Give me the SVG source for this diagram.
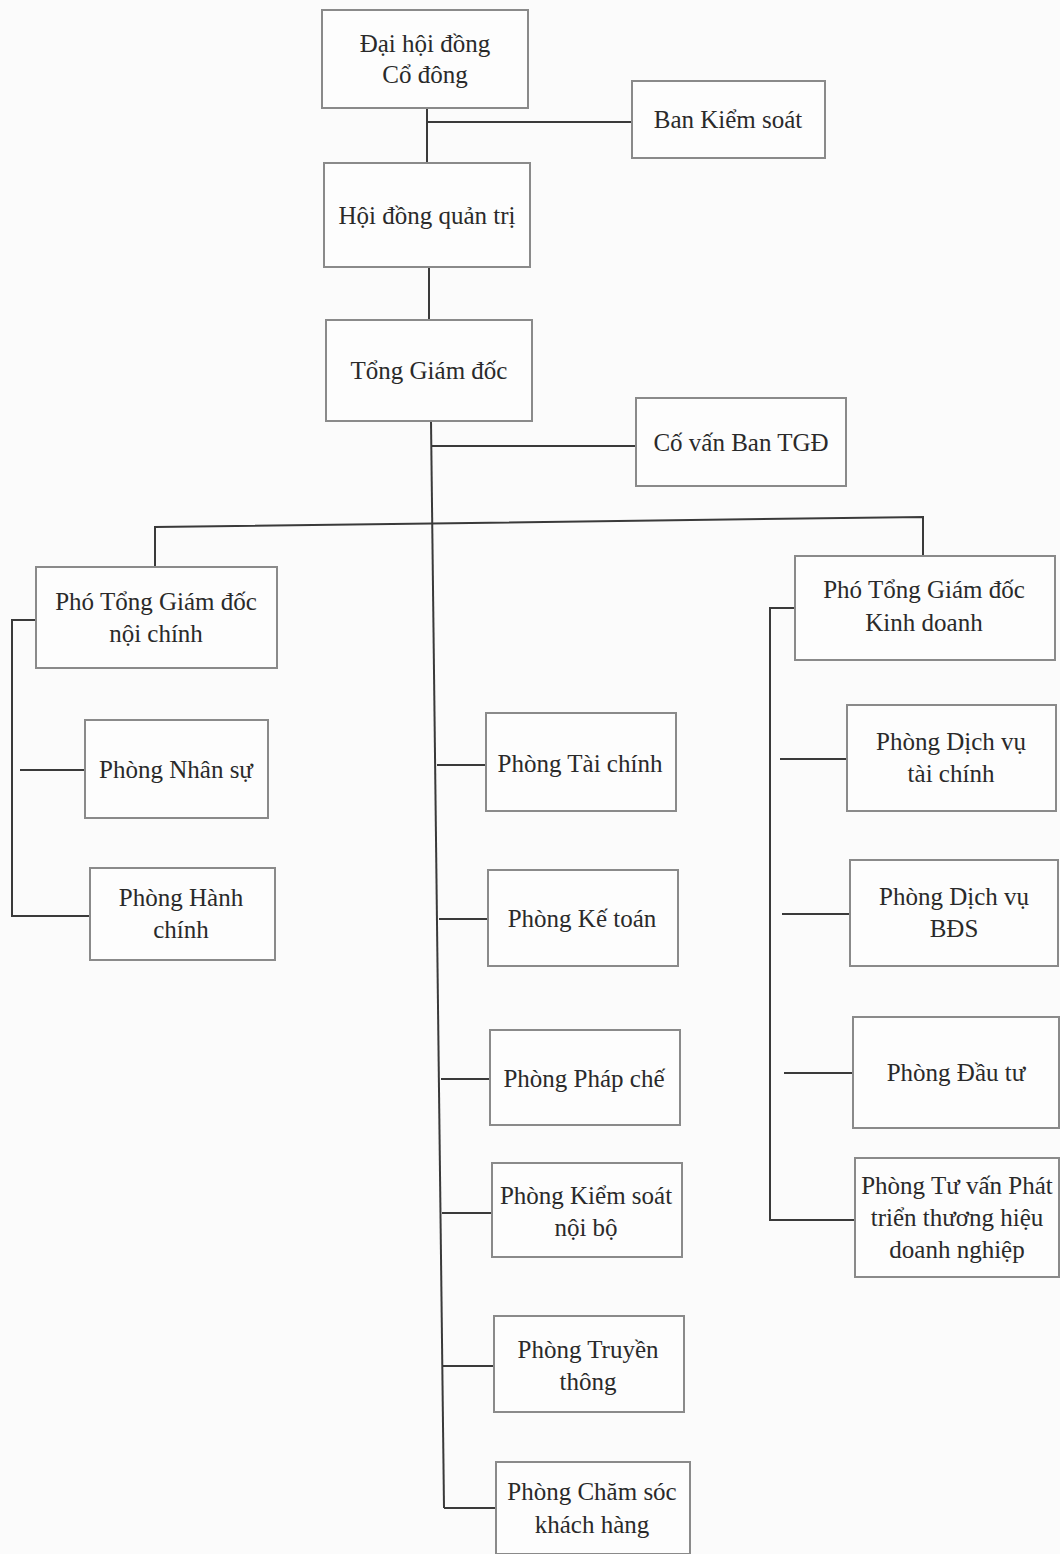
<svg xmlns="http://www.w3.org/2000/svg" width="1060" height="1554" viewBox="0 0 1060 1554">
<style>
.box{fill:#fdfdfd;stroke:#8a8a8a;stroke-width:2}
.t{font-family:'Liberation Serif','Tinos','DejaVu Serif','Noto Serif',serif;font-size:25px;fill:#2a2a2a;text-anchor:middle}
.c{stroke:#3a3a3a;stroke-width:2;fill:none}
</style>
<rect width="1060" height="1554" fill="#fbfbfb"/>
<g id="connectors">
<path class="c" d="M427,108 V165 M427,122 H632"/>
<path class="c" d="M429,267 V320"/>
<path class="c" d="M431,421 L444,1508"/>
<path class="c" d="M432,446 H636"/>
<path class="c" d="M155,567 V527 L923,517 V557"/>
<path class="c" d="M36,620 H12 V916 H90"/>
<path class="c" d="M20,770 H85"/>
<path class="c" d="M437,765 H486 M439,919 H488 M441,1079 H490 M442,1213 H492 M443,1366 H494 M444,1508 H496"/>
<path class="c" d="M795,608 H770 V1220 H855"/>
<path class="c" d="M780,759 H847 M782,914 H850 M784,1073 H853"/>
</g>
<g id="dhdcd"><rect class="box" x="322" y="10" width="206" height="98"/><text class="t" x="425" y="52" font-family="Liberation Serif, serif">Đại hội đồng</text><text class="t" x="425" y="83" font-family="Liberation Serif, serif">Cổ đông</text></g>
<g id="bks"><rect class="box" x="632" y="81" width="193" height="77"/><text class="t" x="728" y="128">Ban Kiểm soát</text></g>
<g id="hdqt"><rect class="box" x="324" y="163" width="206" height="104"/><text class="t" x="427" y="224">Hội đồng quản trị</text></g>
<g id="tgd"><rect class="box" x="326" y="320" width="206" height="101"/><text class="t" x="429" y="379">Tổng Giám đốc</text></g>
<g id="cvtgd"><rect class="box" x="636" y="398" width="210" height="88"/><text class="t" x="741" y="451">Cố vấn Ban TGĐ</text></g>
<g id="ptgdnc"><rect class="box" x="36" y="567" width="241" height="101"/><text class="t" x="156" y="610">Phó Tổng Giám đốc</text><text class="t" x="156" y="642">nội chính</text></g>
<g id="pns"><rect class="box" x="85" y="720" width="183" height="98"/><text class="t" x="176" y="778">Phòng Nhân sự</text></g>
<g id="phc"><rect class="box" x="90" y="868" width="185" height="92"/><text class="t" x="181" y="906">Phòng Hành</text><text class="t" x="181" y="938">chính</text></g>
<g id="ptc"><rect class="box" x="486" y="713" width="190" height="98"/><text class="t" x="580" y="772">Phòng Tài chính</text></g>
<g id="pkt"><rect class="box" x="488" y="870" width="190" height="96"/><text class="t" x="582" y="927">Phòng Kế toán</text></g>
<g id="ppc"><rect class="box" x="490" y="1030" width="190" height="95"/><text class="t" x="584" y="1087">Phòng Pháp chế</text></g>
<g id="pksnb"><rect class="box" x="492" y="1163" width="190" height="94"/><text class="t" x="586" y="1204">Phòng Kiểm soát</text><text class="t" x="586" y="1236">nội bộ</text></g>
<g id="ptt"><rect class="box" x="494" y="1316" width="190" height="96"/><text class="t" x="588" y="1358">Phòng Truyền</text><text class="t" x="588" y="1390">thông</text></g>
<g id="pcskh"><rect class="box" x="496" y="1462" width="194" height="92"/><text class="t" x="592" y="1500">Phòng Chăm sóc</text><text class="t" x="592" y="1533">khách hàng</text></g>
<g id="ptgdkd"><rect class="box" x="795" y="556" width="260" height="104"/><text class="t" x="924" y="598">Phó Tổng Giám đốc</text><text class="t" x="924" y="631">Kinh doanh</text></g>
<g id="pdvtc"><rect class="box" x="847" y="705" width="209" height="106"/><text class="t" x="951" y="750">Phòng Dịch vụ</text><text class="t" x="951" y="782">tài chính</text></g>
<g id="pdvbds"><rect class="box" x="850" y="860" width="208" height="106"/><text class="t" x="954" y="905">Phòng Dịch vụ</text><text class="t" x="954" y="937">BĐS</text></g>
<g id="pdt"><rect class="box" x="853" y="1017" width="206" height="111"/><text class="t" x="956" y="1081">Phòng Đầu tư</text></g>
<g id="ptvpt"><rect class="box" x="855" y="1158" width="204" height="119"/><text class="t" x="957" y="1194">Phòng Tư vấn Phát</text><text class="t" x="957" y="1226">triển thương hiệu</text><text class="t" x="957" y="1258">doanh nghiệp</text></g>
</svg>
